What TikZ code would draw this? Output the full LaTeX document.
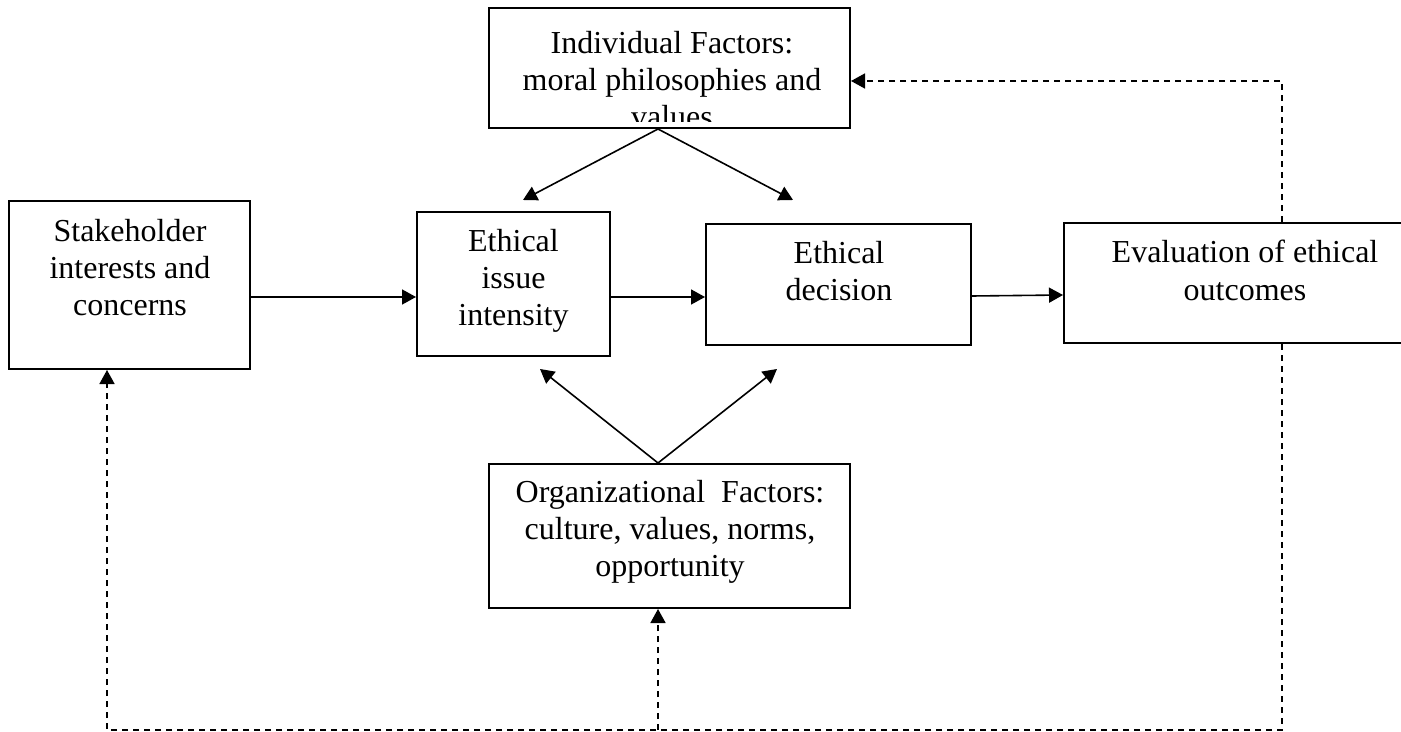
\documentclass[tikz,border=0pt]{standalone}
\usepackage{fontspec}
\setmainfont{Liberation Serif}
\usetikzlibrary{arrows.meta}

\begin{document}
\begin{tikzpicture}[
  x=0.5pt, y=-0.5pt,
  box/.style={draw, line width=1pt, inner sep=0pt},
  txt/.style={align=center, anchor=base, inner sep=0pt,
              font=\fontsize{16}{18.5}\selectfont},
  arr/.style={-{Triangle[length=7pt, width=7.5pt]}, line width=0.8pt},
  dasharr/.style={arr, dash pattern=on 3pt off 2.5pt}
]
\useasboundingbox (0,0) rectangle (1401,732);
\clip (0,0) rectangle (1401,732);
\fill[white] (0,0) rectangle (1401,732);

% boxes
\node[box, minimum width=180.5pt, minimum height=60pt] (indiv) at (669.5,68) {};
\node[box, minimum width=120.5pt, minimum height=84pt] (stake) at (129.5,285) {};
\node[box, minimum width=96.5pt, minimum height=72pt] (issue) at (513.5,284) {};
\node[box, minimum width=132.5pt, minimum height=60.5pt] (decision) at (838.5,284.5) {};
\node[box, minimum width=181pt, minimum height=60pt] (eval) at (1245,283) {};
\node[box, minimum width=180.5pt, minimum height=72pt] (org) at (669.5,536) {};

% texts (anchored on the last line)
\begin{scope}
  \clip (indiv.north west) rectangle ([yshift=3.5pt]indiv.south east);
  \node[txt] (indivT) at (672,128) {Individual Factors:\\moral philosophies and\\values};
\end{scope}
\node[txt] (stakeT) at (130,316) {Stakeholder\\interests and\\concerns};
\node[txt] (issueT) at (513.5,326) {Ethical\\issue\\intensity};
\node[txt] (decisionT) at (839,301) {Ethical\\decision};
\node[txt] (evalT) at (1245,300) {Evaluation of ethical\\outcomes};
\node[txt] (orgT) at (670,576) {Organizational\ \ Factors:\\culture, values, norms,\\opportunity};

% helper points
\coordinate (row) at (0,297);
\coordinate (hub) at (658,730);
\coordinate (fbTR) at (1282,81);
\coordinate (fbBL) at (107,730);
\coordinate (iL) at (523,200);
\coordinate (iR) at (793,200);
\coordinate (oL) at (540,369);
\coordinate (oR) at (777,369);

% main flow
\draw[arr] (stake.east |- row) -- (issue.west |- row);
\draw[arr] (issue.east |- row) -- (decision.west |- row);
\draw[arr] ([yshift=-5.75pt]decision.east) -- ([yshift=-6pt]eval.west);

% influences
\draw[arr] (indiv.south -| hub) -- (iL);
\draw[arr] (indiv.south -| hub) -- (iR);
\draw[arr] (org.north -| hub) -- (oL);
\draw[arr] (org.north -| hub) -- (oR);

% feedback
\draw[dasharr] (eval.north -| fbTR) -- (fbTR) -- (indiv.east |- fbTR);
\draw[dasharr] (eval.south -| fbTR) |- (fbBL) -- (stake.south -| fbBL);
\draw[dasharr] (hub) -- (org.south -| hub);
\end{tikzpicture}
\end{document}
